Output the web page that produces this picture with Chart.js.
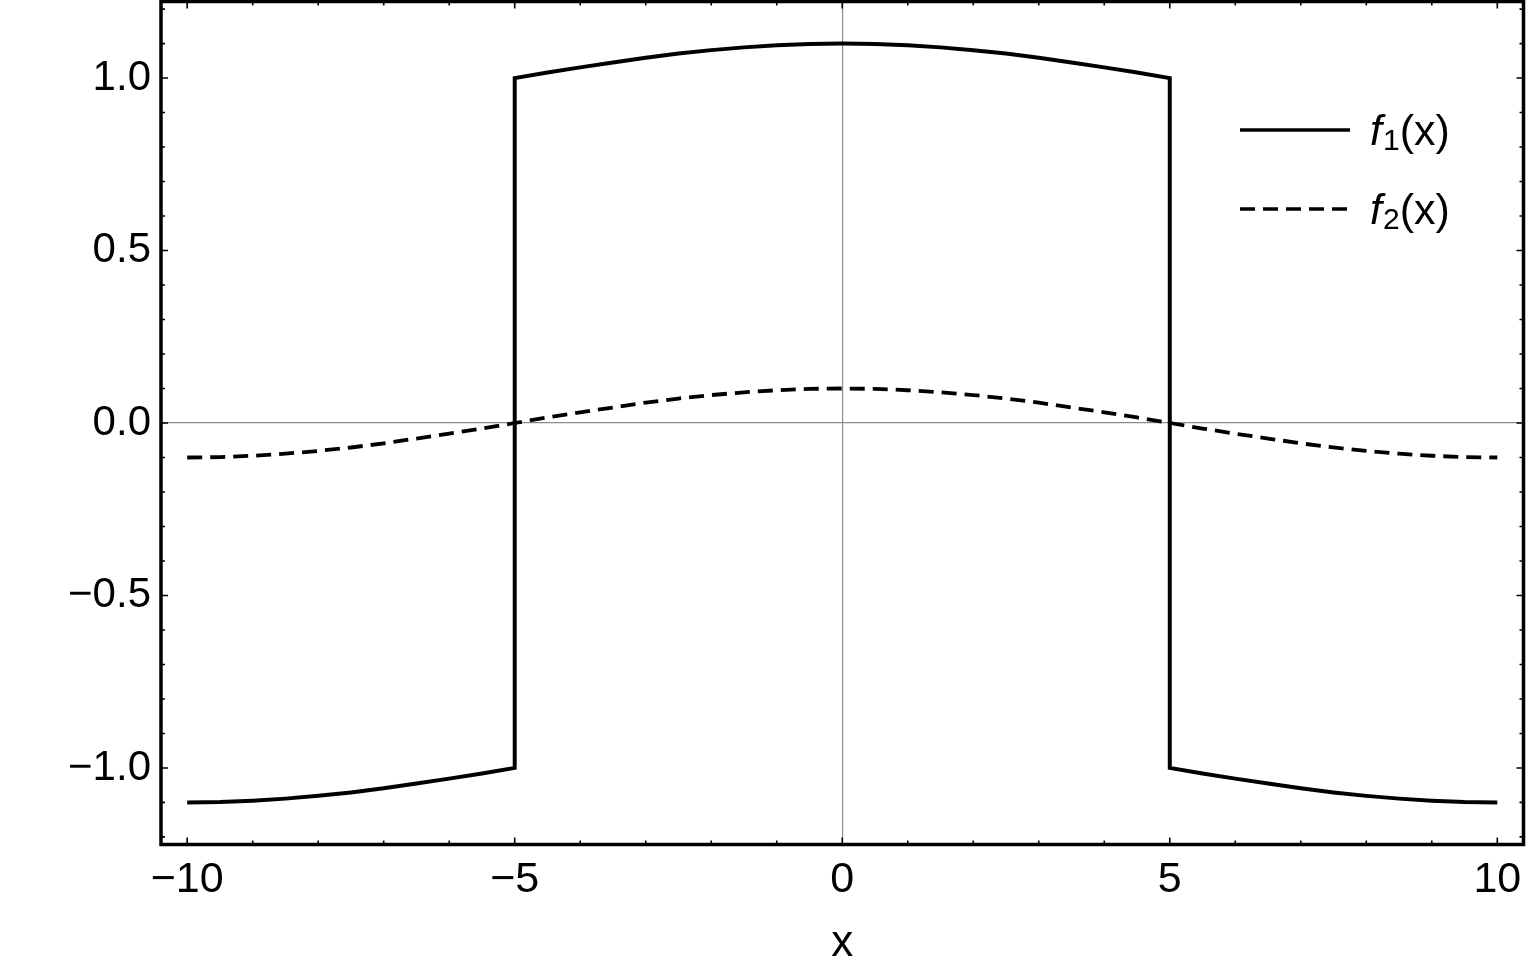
<!DOCTYPE html>
<html>
<head>
<meta charset="utf-8">
<script src="https://cdn.jsdelivr.net/npm/chart.js@4/dist/chart.umd.min.js"></script>
<style>
  html, body { margin: 0; padding: 0; background: #fff; }
  #wrap { width: 1528px; height: 968px; }
</style>
</head>
<body>
<div id="wrap"><canvas id="plot" width="1528" height="968"></canvas></div>
<script>
// values (every half unit of x; the jumps at x = -5 and 5 repeat the x)
const f1X = [-10, -9.5, -9, -8.5, -8, -7.5, -7, -6.5, -6, -5.5, -5,
             -5, -4.5, -4, -3.5, -3, -2.5, -2, -1.5, -1, -0.5, 0, 0.5, 1, 1.5, 2, 2.5, 3, 3.5, 4, 4.5, 5,
             5, 5.5, 6, 6.5, 7, 7.5, 8, 8.5, 9, 9.5, 10];
const f1Y = [-1.100, -1.099, -1.095, -1.089, -1.081, -1.071, -1.059, -1.045, -1.031, -1.016, -1.000,
             1.000, 1.016, 1.031, 1.045, 1.059, 1.071, 1.081, 1.089, 1.095, 1.099, 1.100,
             1.099, 1.095, 1.089, 1.081, 1.071, 1.059, 1.045, 1.031, 1.016, 1.000,
             -1.000, -1.016, -1.031, -1.045, -1.059, -1.071, -1.081, -1.089, -1.095, -1.099, -1.100];
const f2X = [-10, -9.5, -9, -8.5, -8, -7.5, -7, -6.5, -6, -5.5, -5, -4.5, -4, -3.5, -3, -2.5, -2, -1.5, -1, -0.5,
             0, 0.5, 1, 1.5, 2, 2.5, 3, 3.5, 4, 4.5, 5, 5.5, 6, 6.5, 7, 7.5, 8, 8.5, 9, 9.5, 10];
const f2Y = [-0.100, -0.099, -0.095, -0.089, -0.081, -0.071, -0.059, -0.045, -0.031, -0.016,
             0.000, 0.016, 0.031, 0.045, 0.059, 0.071, 0.081, 0.089, 0.095, 0.099, 0.100,
             0.099, 0.095, 0.089, 0.081, 0.071, 0.059, 0.045, 0.031, 0.016, 0.000,
             -0.016, -0.031, -0.045, -0.059, -0.071, -0.081, -0.089, -0.095, -0.099, -0.100];

const xMajor = [-10, -5, 0, 5, 10];
const yMajor = [-1.0, -0.5, 0.0, 0.5, 1.0];
const seriesNames = [['f', '1', '(x)'], ['f', '2', '(x)']];

const FONT = '"Liberation Sans", Arial, sans-serif';
const pts = (xs, ys) => xs.map((x, i) => ({ x: x, y: ys[i] }));
const minus = (s) => s.replace('-', '\u2212');

// frame with inward ticks on all four sides, plus the legend
const framePlugin = {
  id: 'frame',
  afterDraw(chart) {
    const ctx = chart.ctx;
    const a = chart.chartArea;
    const xs = chart.scales.x, ys = chart.scales.y;
    ctx.save();
    ctx.strokeStyle = '#000';

    ctx.lineWidth = 1.6;
    ctx.beginPath();
    for (let v = -10; v <= 10; v++) {
      const p = xs.getPixelForValue(v);
      const len = v % 5 === 0 ? 7 : 4;
      ctx.moveTo(p, a.bottom); ctx.lineTo(p, a.bottom - len);
      ctx.moveTo(p, a.top); ctx.lineTo(p, a.top + len);
    }
    for (let k = -12; k <= 12; k++) {
      const p = ys.getPixelForValue(k / 10);
      const len = k % 5 === 0 ? 7 : 4;
      ctx.moveTo(a.left, p); ctx.lineTo(a.left + len, p);
      ctx.moveTo(a.right, p); ctx.lineTo(a.right - len, p);
    }
    ctx.stroke();

    ctx.lineWidth = 3.5;
    ctx.strokeRect(a.left, a.top, a.right - a.left, a.bottom - a.top);

    // legend
    chart.data.datasets.forEach((ds, i) => {
      const y = 130 + i * 79;
      ctx.lineWidth = 3.6;
      ctx.setLineDash(ds.borderDash || []);
      ctx.beginPath();
      ctx.moveTo(1240, y); ctx.lineTo(1350, y);
      ctx.stroke();
      ctx.setLineDash([]);
      const [f, sub, rest] = seriesNames[i];
      ctx.fillStyle = '#000';
      ctx.textBaseline = 'alphabetic';
      ctx.textAlign = 'left';
      let x = 1370;
      ctx.font = 'italic 43px ' + FONT;
      ctx.fillText(f, x, y + 15);
      x += ctx.measureText(f).width + 1;
      ctx.font = '30px ' + FONT;
      ctx.fillText(sub, x, y + 20);
      x += ctx.measureText(sub).width;
      ctx.font = '43px ' + FONT;
      ctx.fillText(rest, x, y + 15);
    });
    ctx.restore();
  }
};

new Chart(document.getElementById('plot'), {
  type: 'scatter',
  data: {
    datasets: [
      { label: 'f1(x)', data: pts(f1X, f1Y), showLine: true, borderColor: '#000', borderWidth: 4,
        pointRadius: 0, fill: false, tension: 0 },
      { label: 'f2(x)', data: pts(f2X, f2Y), showLine: true, borderColor: '#000', borderWidth: 3.8,
        borderDash: [15, 8], pointRadius: 0, fill: false, tension: 0 },
    ],
  },
  options: {
    responsive: false,
    animation: false,
    layout: { padding: { top: 1.5, right: 4.5, left: 0, bottom: 0 } },
    plugins: { legend: { display: false }, tooltip: { enabled: false } },
    scales: {
      x: {
        type: 'linear', min: -10.4, max: 10.4,
        afterFit: (s) => { s.height = 123.5; s.paddingLeft = 0; s.paddingRight = 0; },
        afterBuildTicks: (s) => { s.ticks = xMajor.map((v) => ({ value: v })); },
        ticks: { color: '#000', font: { family: FONT, size: 43 }, padding: 10,
                 maxRotation: 0, autoSkip: false, callback: (v) => minus(String(v)) },
        grid: { drawTicks: false, lineWidth: 1.2,
                color: (c) => (c.tick && c.tick.value === 0 ? '#8c8c8c' : 'rgba(0,0,0,0)') },
        border: { display: false },
        title: { display: true, text: 'x', color: '#000', font: { family: FONT, size: 44, lineHeight: 1 },
                 padding: { top: 0, bottom: 2 } },
      },
      y: {
        type: 'linear', min: -1.222, max: 1.222,
        afterFit: (s) => { s.width = 161; s.paddingTop = 0; s.paddingBottom = 0; },
        afterBuildTicks: (s) => { s.ticks = yMajor.map((v) => ({ value: v })); },
        ticks: { color: '#000', font: { family: FONT, size: 42 }, padding: 10, autoSkip: false,
                 callback: (v) => minus(Number(v).toFixed(1)) },
        grid: { drawTicks: false, lineWidth: 1.2,
                color: (c) => (c.tick && c.tick.value === 0 ? '#8c8c8c' : 'rgba(0,0,0,0)') },
        border: { display: false },
      },
    },
  },
  plugins: [framePlugin],
});
</script>
</body>
</html>
